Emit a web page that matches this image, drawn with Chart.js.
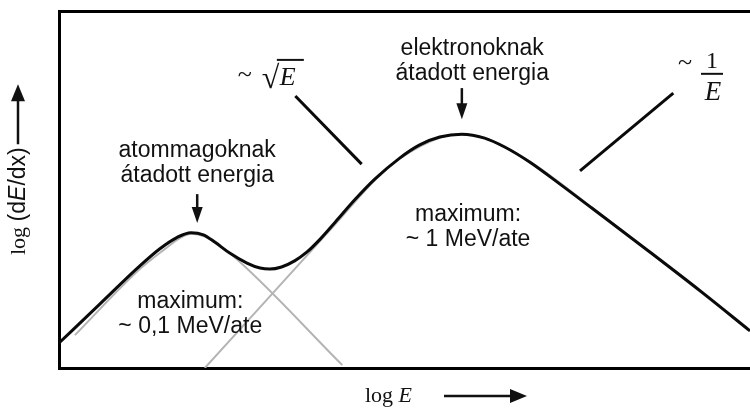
<!DOCTYPE html>
<html>
<head>
<meta charset="utf-8">
<script src="https://cdn.jsdelivr.net/npm/chart.js@4/dist/chart.umd.min.js"></script>
<style>
  html, body { margin: 0; padding: 0; background: #fff; }
</style>
</head>
<body>
<canvas id="stopping" width="750" height="410"></canvas>
<script>
// log E and log(dE/dx), arbitrary units 0..100 across the frame
var totalX = [0, 5.9, 11.7, 14.6, 17.1, 19.1, 20.9, 22.6, 24.7, 27.2, 29.1, 30.5, 32.2, 34.1, 35.9, 37.8, 40.0, 42.8, 45.7, 49.3, 52.2, 55.1, 58.3, 61.6, 64.5, 68.1, 72.5, 77.1, 85.5, 92.8, 100];
var totalY = [7.0, 17.9, 28.6, 33.4, 36.6, 37.9, 37.3, 35.2, 32.2, 29.4, 28.0, 27.7, 28.3, 30.0, 32.5, 36.1, 40.9, 47.1, 52.9, 58.8, 62.5, 64.7, 65.5, 64.4, 61.9, 57.7, 51.5, 44.8, 32.5, 21.6, 10.4];

// nuclear stopping component
var nuclearX = [2.3, 11.7, 15.3, 17.5, 19.2, 21.1, 23.0, 24.7, 41.0];
var nuclearY = [9.2, 27.7, 33.3, 36.4, 37.6, 36.8, 34.5, 32.2, 0.8];

// electronic stopping component
var electronX = [21.1, 40.0, 45.7, 49.3, 55.1, 58.3, 61.6, 68.1, 77.1, 100];
var electronY = [0, 40.3, 52.6, 58.6, 64.5, 65.4, 64.4, 57.9, 45.0, 10.4];

// leader lines for the power-law labels
var sqrtLeaderX = [34.2, 43.8];
var sqrtLeaderY = [76.2, 57.1];
var invLeaderX = [75.4, 88.9];
var invLeaderY = [55.2, 77.0];

var nuclearLabel = ['atommagoknak', 'átadott energia'];
var electronLabel = ['elektronoknak', 'átadott energia'];
var nuclearMax = ['maximum:', '~ 0,1 MeV/ate'];
var electronMax = ['maximum:', '~ 1 MeV/ate'];

function points(xs, ys) {
    return xs.map(function (x, i) { return { x: x, y: ys[i] }; });
}

var SANS = '"Liberation Sans", Arial, sans-serif';
var SERIF = '"Liberation Serif", "Times New Roman", serif';

function arrowHead(ctx, x, y, dx, dy, len, half) {
    // tip at (x, y), pointing along (dx, dy)
    ctx.beginPath();
    ctx.moveTo(x, y);
    ctx.lineTo(x - dx * len - dy * half, y - dy * len + dx * half);
    ctx.lineTo(x - dx * len + dy * half, y - dy * len - dx * half);
    ctx.closePath();
    ctx.fill();
}

function arrow(ctx, x0, y0, x1, y1, len, half) {
    var d = Math.hypot(x1 - x0, y1 - y0), dx = (x1 - x0) / d, dy = (y1 - y0) / d;
    ctx.beginPath();
    ctx.moveTo(x0, y0);
    ctx.lineTo(x1 - dx * len * 0.8, y1 - dy * len * 0.8);
    ctx.stroke();
    arrowHead(ctx, x1, y1, dx, dy, len, half);
}

var annotate = {
    id: 'annotate',
    afterDatasetsDraw: function (chart) {
        var ctx = chart.ctx, xs = chart.scales.x, ys = chart.scales.y, area = chart.chartArea;
        var px = function (v) { return xs.getPixelForValue(v); };
        var py = function (v) { return ys.getPixelForValue(v); };
        ctx.save();
        ctx.fillStyle = '#111';
        ctx.strokeStyle = '#111';
        ctx.lineWidth = 2.5;
        ctx.textBaseline = 'alphabetic';

        // two-line captions
        ctx.font = '23px ' + SANS;
        ctx.textAlign = 'center';
        [[electronLabel, 59.8, 87.8], [nuclearLabel, 20.0, 59.1],
         [electronMax, 59.2, 41.2], [nuclearMax, 19.0, 16.8]].forEach(function (b) {
            ctx.fillText(b[0][0], px(b[1]), py(b[2]));
            ctx.fillText(b[0][1], px(b[1]), py(b[2]) + 25);
        });

        // pointers to the two maxima
        arrow(ctx, px(58.3), py(78.4), px(58.3), py(69.7), 16, 5.5);
        arrow(ctx, px(20.0), py(48.7), px(20.0), py(40.6), 16, 5.5);

        // ~ sqrt(E)
        var sx = px(29.5), sy = py(79.3);
        ctx.textAlign = 'left';
        ctx.font = '26px ' + SERIF;
        ctx.fillText('~', sx - 25, sy - 3);
        ctx.font = 'bold 32px ' + SERIF;
        ctx.fillText('\u221A', sx - 1, sy + 3);
        ctx.font = 'italic 26px ' + SERIF;
        ctx.fillText('E', sx + 17, sy);
        ctx.lineWidth = 2;
        ctx.beginPath();
        ctx.moveTo(sx + 14, sy - 25);
        ctx.lineTo(sx + 41, sy - 25);
        ctx.stroke();

        // ~ 1/E
        var fx = px(94.5), fy = py(82.4);
        ctx.font = '26px ' + SERIF;
        ctx.fillText('~', fx - 34, fy - 4);
        ctx.textAlign = 'center';
        ctx.font = '24px ' + SERIF;
        ctx.fillText('1', fx, fy - 6);
        ctx.beginPath();
        ctx.moveTo(fx - 11, fy);
        ctx.lineTo(fx + 11, fy);
        ctx.stroke();
        ctx.font = 'italic 27px ' + SERIF;
        ctx.fillText('E', fx + 1, fy + 26);

        // x axis title: log E ->
        var tx = area.left + 306, ty = area.bottom + 34;
        ctx.textAlign = 'left';
        ctx.font = '22px ' + SERIF;
        ctx.fillText('log', tx, ty);
        var w = ctx.measureText('log ').width;
        ctx.font = 'italic 22px ' + SERIF;
        ctx.fillText('E', tx + w, ty);
        ctx.lineWidth = 2.5;
        arrow(ctx, tx + 79, ty - 6, tx + 162, ty - 6, 17, 7);

        // y axis title: log (dE/dx) ->, written bottom to top
        ctx.save();
        ctx.translate(area.left - 34, area.top + 244);
        ctx.rotate(-Math.PI / 2);
        var parts = [['log ', '22px ' + SERIF], ['(d', '23px ' + SANS], ['E', 'italic 23px ' + SANS], ['/dx)', '23px ' + SANS]];
        var cx = 0;
        parts.forEach(function (p) {
            ctx.font = p[1];
            ctx.fillText(p[0], cx, 0);
            cx += ctx.measureText(p[0]).width;
        });
        arrow(ctx, cx + 3, -7, cx + 63, -7, 17, 7);
        ctx.restore();

        ctx.restore();
    }
};

function frameAxis(position) {
    return {
        type: 'linear', position: position, min: 0, max: 100, display: true,
        ticks: { display: false }, grid: { display: false },
        border: { display: true, color: '#000', width: 3 }
    };
}

new Chart(document.getElementById('stopping'), {
    type: 'scatter',
    data: {
        datasets: [{
            label: 'total',
            data: points(totalX, totalY),
            borderColor: '#0a0a0a', borderWidth: 3,
            cubicInterpolationMode: 'monotone', order: 0
        }, {
            label: 'nuclear',
            data: points(nuclearX, nuclearY),
            borderColor: '#b4b4b4', borderWidth: 2,
            cubicInterpolationMode: 'monotone', order: 2
        }, {
            label: 'electronic',
            data: points(electronX, electronY),
            borderColor: '#b4b4b4', borderWidth: 2,
            cubicInterpolationMode: 'monotone', order: 2
        }, {
            label: 'sqrt',
            data: points(sqrtLeaderX, sqrtLeaderY),
            borderColor: '#0a0a0a', borderWidth: 3, order: 1
        }, {
            label: 'inverse',
            data: points(invLeaderX, invLeaderY),
            borderColor: '#0a0a0a', borderWidth: 3, order: 1
        }]
    },
    options: {
        responsive: false,
        animation: false,
        showLine: true,
        elements: { point: { radius: 0, hoverRadius: 0 } },
        layout: { padding: { left: 51, top: 3, right: 0, bottom: 34 } },
        plugins: { legend: { display: false }, tooltip: { enabled: false } },
        scales: {
            x: frameAxis('bottom'),
            x2: frameAxis('top'),
            y: frameAxis('left')
        }
    },
    plugins: [annotate]
});
</script>
</body>
</html>
